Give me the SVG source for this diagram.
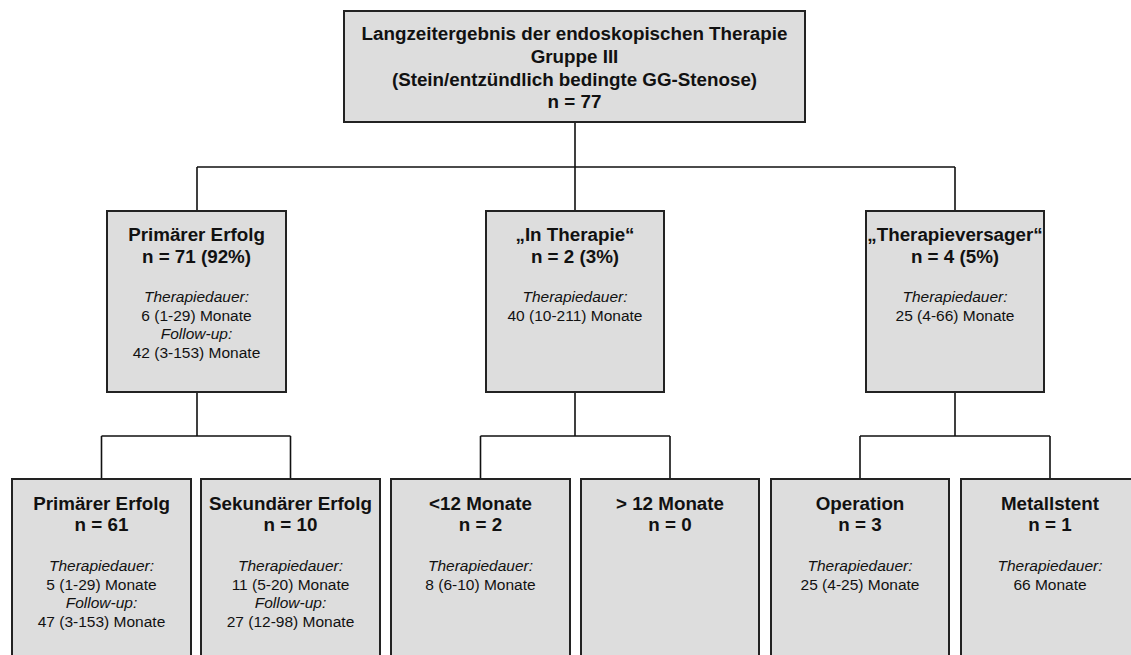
<svg xmlns="http://www.w3.org/2000/svg" width="1131" height="655" viewBox="0 0 1131 655">
<style>
.box{fill:#dddddd;stroke:#222222;stroke-width:2}
.con{fill:none;stroke:#111111;stroke-width:1.6}
text{font-family:"Liberation Sans",Arial,sans-serif;text-anchor:middle;fill:#111111}
.b{font-weight:bold;font-size:18.8px}
.r{font-size:15.5px}
.i{font-size:15.5px;font-style:italic}
</style>
<rect x="0" y="0" width="1131" height="655" fill="#ffffff"/>
<g id="connectors">
<path class="con" d="M575 122V167M197 167H955M197 167V211M575 167V211M955 167V211"/>
<path class="con" d="M197 392V436M101.5 436H290.5M101.5 436V479M290.5 436V479"/>
<path class="con" d="M575 392V436M480.5 436H670M480.5 436V479M670 436V479"/>
<path class="con" d="M955 392V436M860 436H1050M860 436V479M1050 436V479"/>
</g>
<g id="root">
<rect class="box" x="344" y="11" width="461" height="111"/>
<text class="b" x="574.5" y="40">Langzeitergebnis der endoskopischen Therapie</text>
<text class="b" x="574.5" y="63">Gruppe III</text>
<text class="b" x="574.5" y="86">(Stein/entzündlich bedingte GG-Stenose)</text>
<text class="b" x="574.5" y="108">n = 77</text>
</g>
<g id="primaer">
<rect class="box" x="107" y="211" width="179" height="181"/>
<text class="b" x="196.5" y="241">Primärer Erfolg</text>
<text class="b" x="196.5" y="263">n = 71 (92%)</text>
<text class="i" x="196.5" y="302">Therapiedauer:</text>
<text class="r" x="196.5" y="321">6 (1-29) Monate</text>
<text class="i" x="196.5" y="339">Follow-up:</text>
<text class="r" x="196.5" y="358">42 (3-153) Monate</text>
</g>
<g id="intherapie">
<rect class="box" x="486" y="211" width="178" height="181"/>
<text class="b" x="575" y="241">„In Therapie“</text>
<text class="b" x="575" y="263">n = 2 (3%)</text>
<text class="i" x="575" y="302">Therapiedauer:</text>
<text class="r" x="575" y="321">40 (10-211) Monate</text>
</g>
<g id="versager">
<rect class="box" x="866" y="211" width="178" height="181"/>
<text class="b" x="955" y="241">„Therapieversager“</text>
<text class="b" x="955" y="263">n = 4 (5%)</text>
<text class="i" x="955" y="302">Therapiedauer:</text>
<text class="r" x="955" y="321">25 (4-66) Monate</text>
</g>
<g id="primaer2">
<rect class="box" x="12" y="479" width="179" height="190"/>
<text class="b" x="101.5" y="510">Primärer Erfolg</text>
<text class="b" x="101.5" y="531">n = 61</text>
<text class="i" x="101.5" y="571">Therapiedauer:</text>
<text class="r" x="101.5" y="590">5 (1-29) Monate</text>
<text class="i" x="101.5" y="608">Follow-up:</text>
<text class="r" x="101.5" y="627">47 (3-153) Monate</text>
</g>
<g id="sekundaer">
<rect class="box" x="201" y="479" width="179" height="190"/>
<text class="b" x="290.5" y="510">Sekundärer Erfolg</text>
<text class="b" x="290.5" y="531">n = 10</text>
<text class="i" x="290.5" y="571">Therapiedauer:</text>
<text class="r" x="290.5" y="590">11 (5-20) Monate</text>
<text class="i" x="290.5" y="608">Follow-up:</text>
<text class="r" x="290.5" y="627">27 (12-98) Monate</text>
</g>
<g id="lt12">
<rect class="box" x="391" y="479" width="179" height="190"/>
<text class="b" x="480.5" y="510">&lt;12 Monate</text>
<text class="b" x="480.5" y="531">n = 2</text>
<text class="i" x="480.5" y="571">Therapiedauer:</text>
<text class="r" x="480.5" y="590">8 (6-10) Monate</text>
</g>
<g id="gt12">
<rect class="box" x="581" y="479" width="178" height="190"/>
<text class="b" x="670" y="510">&gt; 12 Monate</text>
<text class="b" x="670" y="531">n = 0</text>
</g>
<g id="operation">
<rect class="box" x="771" y="479" width="178" height="190"/>
<text class="b" x="860" y="510">Operation</text>
<text class="b" x="860" y="531">n = 3</text>
<text class="i" x="860" y="571">Therapiedauer:</text>
<text class="r" x="860" y="590">25 (4-25) Monate</text>
</g>
<g id="metallstent">
<rect class="box" x="961" y="479" width="179" height="190"/>
<text class="b" x="1050" y="510">Metallstent</text>
<text class="b" x="1050" y="531">n = 1</text>
<text class="i" x="1050" y="571">Therapiedauer:</text>
<text class="r" x="1050" y="590">66 Monate</text>
</g>
</svg>
